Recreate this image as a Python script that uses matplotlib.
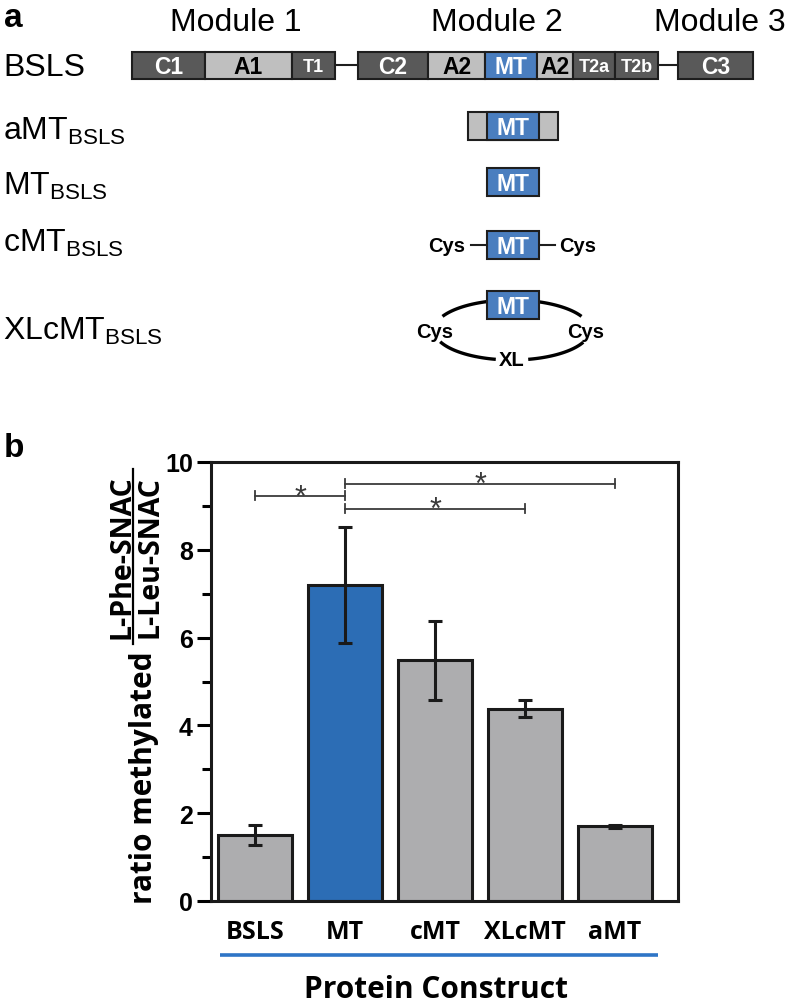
import matplotlib
matplotlib.use("Agg")
import matplotlib.pyplot as plt
from matplotlib.patches import Rectangle
import numpy as np

plt.rcParams['mathtext.fontset'] = 'custom'
plt.rcParams['mathtext.rm'] = 'Liberation Sans'
plt.rcParams['mathtext.it'] = 'Liberation Sans'

# ---------------- data ----------------
constructs = ["BSLS", "MT", "cMT", "XLcMT", "aMT"]
ratio = [1.50, 7.20, 5.48, 4.38, 1.70]
ratio_err = [0.23, 1.32, 0.90, 0.20, 0.03]
bar_colors = ["#ADADAF", "#2C6DB5", "#ADADAF", "#ADADAF", "#ADADAF"]
sig_pairs = [(0, 1), (1, 4), (1, 3)]
sig_levels = [9.23, 9.51, 8.94]
sig_marks = ["*", "*", "*"]

# panel a domain architecture of BSLS (name, relative length, kind)
domain_names = ["C1", "A1", "T1", "-", "C2", "A2", "MT", "A2", "T2a", "T2b", "-", "C3"]
domain_lengths = [73, 87, 43, 23, 70, 57, 52, 36, 42, 43, 20, 75]
domain_kinds = ["dark", "light", "dark", "link", "dark", "light", "mt", "light",
                "dark", "dark", "link", "dark"]
module_titles = ["Module 1", "Module 2", "Module 3"]
construct_labels = ["aMT", "MT", "cMT", "XLcMT"]

DARK = "#595959"
LIGHT = "#BFBFBF"
MTBLUE = "#4A7EBF"
EDGE = "#1E1E1E"

fig = plt.figure(figsize=(7.87, 10.04), dpi=100)

# overlay axes in pixel coordinates
ov = fig.add_axes([0, 0, 1, 1])
ov.set_xlim(0, 787)
ov.set_ylim(1004, 0)
ov.axis("off")

ARIAL = "Liberation Sans"
OPEN = "Open Sans"

# panel letters
ov.text(4, 27, "a", fontsize=24, fontweight="bold", family=ARIAL, va="baseline")
ov.text(4, 457, "b", fontsize=24, fontweight="bold", family=ARIAL, va="baseline")

# module titles
for t, xc in zip(module_titles, [236, 497, 720]):
    ov.text(xc, 31, t, fontsize=23, family=ARIAL, ha="center", va="baseline")

# left labels
ov.text(3, 76, "BSLS", fontsize=23, family=ARIAL, va="baseline")
for lab, yb in zip(construct_labels, [140, 195, 252, 340]):
    ov.text(3, yb, lab + r"$_{\mathrm{BSLS}}$", fontsize=23, family=ARIAL, va="baseline")

# BSLS architecture
y0, h = 52.5, 27
x = 132
for name, L, kind in zip(domain_names, domain_lengths, domain_kinds):
    if kind == "link":
        ov.plot([x, x + L], [y0 + h / 2, y0 + h / 2], color=EDGE, lw=1.5, zorder=1)
    else:
        fc = {"dark": DARK, "light": LIGHT, "mt": MTBLUE}[kind]
        tc = "black" if kind == "light" else "white"
        ov.add_patch(Rectangle((x, y0), L, h, facecolor=fc, edgecolor=EDGE, lw=1.5, zorder=2))
        if name.startswith("T"):
            fs, sx = 13, 0.8
        else:
            fs, sx = 16.5, 0.85
        ov.text(x + L / 2, y0 + h / 2 + 1.5, name, fontsize=fs, fontweight="bold",
                family=ARIAL, fontstretch="condensed", color=tc, ha="center", va="center",
                zorder=3)
    x += L


def mt_box(xl, yt, w=52.5, hh=28):
    ov.add_patch(Rectangle((xl, yt), w, hh, facecolor=MTBLUE, edgecolor=EDGE, lw=1.5, zorder=3))
    ov.text(xl + w / 2, yt + hh / 2 + 1.5, "MT", fontsize=16.5, fontweight="bold", family=ARIAL,
            color="white", ha="center", va="center", zorder=4)


# aMT
ov.add_patch(Rectangle((468, 112.7), 90, 28, facecolor=LIGHT, edgecolor=EDGE, lw=1.5, zorder=2))
mt_box(486.5, 112.7)
# MT
mt_box(486.5, 169)
# cMT
mt_box(486.5, 231.7)
ov.plot([471, 486.5], [246, 246], color=EDGE, lw=1.5)
ov.plot([539, 555], [246, 246], color=EDGE, lw=1.5)
ov.text(447, 247, "Cys", fontsize=14.5, fontweight="bold", family=ARIAL, ha="center", va="center")
ov.text(578, 247, "Cys", fontsize=14.5, fontweight="bold", family=ARIAL, ha="center", va="center")

# XLcMT ring: ellipse drawn as four arcs (parametric angles, screen-up is negative sin)
ecx, ecy, ea, eb = 512, 331, 78, 30
for t1, t2 in [(-153, -108), (-72, -27), (24, 78), (102, 157)]:
    tt = np.deg2rad(np.linspace(t1, t2, 60))
    ov.plot(ecx + ea * np.cos(tt), ecy + eb * np.sin(tt), color="black", lw=2.4,
            solid_capstyle="butt", zorder=2)
mt_box(486.5, 291.7)
ov.text(435, 333, "Cys", fontsize=14.5, fontweight="bold", family=ARIAL, ha="center", va="center")
ov.text(586, 333, "Cys", fontsize=14.5, fontweight="bold", family=ARIAL, ha="center", va="center")
ov.text(512, 361, "XL", fontsize=14.5, fontweight="bold", family=ARIAL, ha="center", va="center")

# ---------------- panel b ----------------
ax = fig.add_axes([211 / 787, 1 - 902 / 1004, (678 - 211) / 787, (902 - 463) / 1004])
xpos = np.arange(len(constructs))
ax.bar(xpos, ratio, width=0.82, color=bar_colors, edgecolor="#1A1A1A", linewidth=2.2, zorder=2)
ax.errorbar(xpos, ratio, yerr=ratio_err, fmt="none", ecolor="#1A1A1A", elinewidth=2.2,
            capsize=5, capthick=2.2, zorder=3)
ax.set_xlim(-0.49, 4.70)
ax.set_ylim(0, 10)
ax.set_yticks([0, 2, 4, 6, 8, 10])
ax.set_yticks([1, 3, 5, 7, 9], minor=True)
ax.set_xticks(xpos)
ax.set_xticklabels(constructs, fontsize=18, fontweight="bold", family=OPEN)
ax.tick_params(axis="x", length=0, pad=13)
ax.tick_params(axis="y", which="major", direction="out", length=10, width=2.2, pad=3,
               labelsize=18)
ax.tick_params(axis="y", which="minor", direction="out", length=6.5, width=2.2)
for lab in ax.get_yticklabels():
    lab.set_fontweight("bold")
    lab.set_family(ARIAL)
for s in ax.spines.values():
    s.set_linewidth(2.2)
    s.set_color("#1A1A1A")

# significance brackets
for (i, j), yv, m in zip(sig_pairs, sig_levels, sig_marks):
    ax.plot([i, j], [yv, yv], color="#3A3A3A", lw=1.3, zorder=4)
    for xx in (i, j):
        ax.plot([xx, xx], [yv - 0.1, yv + 0.1], color="#3A3A3A", lw=1.3, zorder=4)
    ax.annotate(m, xy=((i + j) / 2, yv), xytext=(0, -7), textcoords="offset points",
                ha="center", va="baseline", fontsize=22, family=ARIAL, color="#3A3A3A")

# y label (fraction), baselines anchored on the right side
ov.text(152, 778, "ratio methylated", rotation=90, rotation_mode="anchor", fontsize=21.5,
        fontweight="bold", family=OPEN, ha="center", va="baseline")
ov.plot([133, 133], [470, 645], color="black", lw=1.6)
ov.text(129, 557, "L-Phe-SNAC", rotation=90, rotation_mode="anchor", fontsize=20.5,
        fontweight="bold", family=OPEN, ha="center", va="baseline")
ov.text(157, 557, "L-Leu-SNAC", rotation=90, rotation_mode="anchor", fontsize=20.5,
        fontweight="bold", family=OPEN, ha="center", va="baseline")

# x-axis group line and title
ov.plot([220, 658], [956, 956], color="#2E75C6", lw=2.6, solid_capstyle="butt")
ov.text(436, 990, "Protein Construct", fontsize=21.5, fontweight="bold", family=OPEN,
        ha="center", va="center")

fig.savefig("out.png", dpi=100)
